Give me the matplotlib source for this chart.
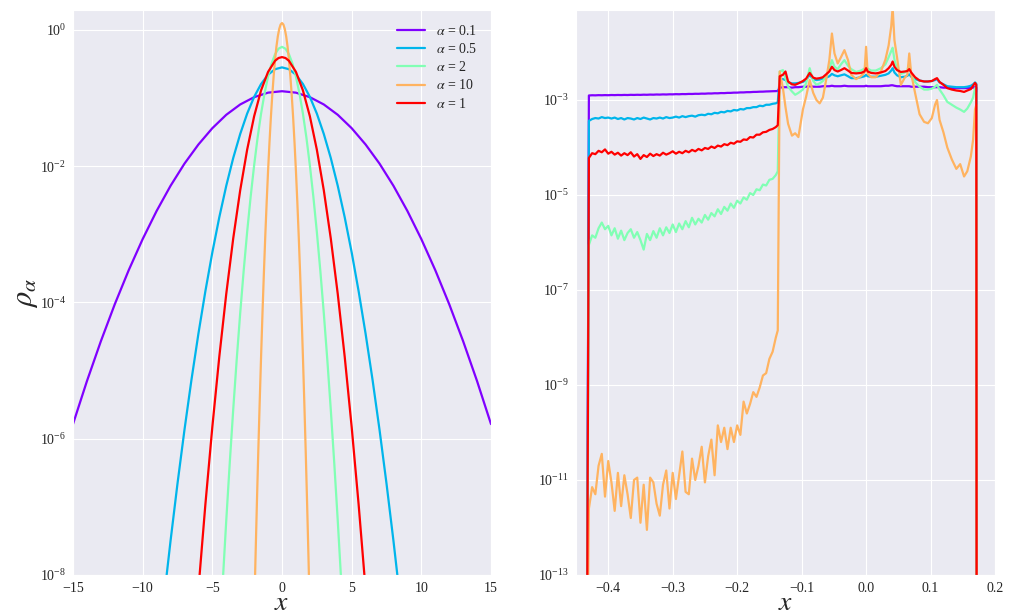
import numpy as np
import matplotlib.pyplot as plt
import seaborn as sns

sns.set_style("darkgrid")
plt.rcParams["font.family"] = ["Liberation Serif", "DejaVu Serif"]
plt.rcParams["mathtext.fontset"] = "stix"

labels = ["0.1", "0.5", "2", "10", "1"]
colors = plt.cm.rainbow(np.linspace(0, 1, 5))

# ---- left panel: densities, read on the x >= 0 half (curves are symmetric)
x_a01 = [0, 1, 2, 3, 4, 5, 6, 7, 8, 9, 10, 11, 12, 13, 14, 15]
rho_a01 = [0.126, 0.120, 0.103, 0.0805, 0.0568, 0.0361, 0.0208, 0.0109, 5.15e-3,
           2.20e-3, 8.51e-4, 2.98e-4, 9.44e-5, 2.70e-5, 7.01e-6, 1.64e-6]

x_a05 = [0, 0.5, 1, 1.5, 2, 2.5, 3, 3.5, 4, 4.5, 5, 5.5, 6, 6.5, 7, 7.5, 8, 8.5]
rho_a05 = [0.282, 0.265, 0.220, 0.161, 0.104, 0.0592, 0.0297, 0.0132, 5.16e-3, 1.78e-3,
           5.43e-4, 1.46e-4, 3.47e-5, 7.28e-6, 1.35e-6, 2.20e-7, 3.16e-8, 4.02e-9]

x_a2 = [0, 0.25, 0.5, 0.75, 1, 1.25, 1.5, 1.75, 2, 2.25, 2.5, 2.75, 3, 3.25, 3.5,
        3.75, 4, 4.25, 4.5]
rho_a2 = [0.564, 0.530, 0.439, 0.321, 0.207, 0.118, 0.0594, 0.0264, 0.0103, 3.57e-3,
          1.09e-3, 2.93e-4, 6.97e-5, 1.46e-5, 2.70e-6, 4.41e-7, 6.34e-8, 8.07e-9, 9.1e-10]

x_a10 = [0, 0.1, 0.2, 0.3, 0.4, 0.5, 0.6, 0.7, 0.8, 0.9, 1.0, 1.1, 1.2, 1.3, 1.4,
         1.5, 1.6, 1.7, 1.8, 1.9, 2.0]
rho_a10 = [1.262, 1.200, 1.033, 0.805, 0.568, 0.361, 0.209, 0.109, 0.0515, 0.0220,
           8.51e-3, 2.98e-3, 9.44e-4, 2.70e-4, 7.01e-5, 1.64e-5, 3.49e-6, 6.71e-7,
           1.17e-7, 1.83e-8, 2.61e-9]

x_a1 = [0, 0.25, 0.5, 1, 1.5, 2, 2.5, 3, 3.5, 4, 4.5, 5, 5.5, 6, 6.5]
rho_a1 = [0.399, 0.387, 0.352, 0.242, 0.130, 0.0540, 0.0175, 4.43e-3, 8.73e-4,
          1.34e-4, 1.60e-5, 1.49e-6, 1.08e-7, 6.1e-9, 2.7e-10]

left_x = [x_a01, x_a05, x_a2, x_a10, x_a1]
left_rho = [rho_a01, rho_a05, rho_a2, rho_a10, rho_a1]

# ---- right panel: log10 of the density
# noisy part: x = -0.430 ... -0.140 (step 0.005) and -0.137
x_noisy = list(np.round(np.arange(-0.430, -0.1375, 0.005), 3)) + [-0.137]
# structured part after the jump
x_struct = [-0.1340, -0.1290, -0.1250, -0.1210, -0.1150, -0.1100, -0.1050, -0.0980,
            -0.0930, -0.0875, -0.0820, -0.0770, -0.0720, -0.0670, -0.0620, -0.0570,
            -0.0530, -0.0490, -0.0440, -0.0390, -0.0336, -0.0280, -0.0230, -0.0155,
            -0.0080, -0.0025, 0.0000, 0.0025, 0.0080, 0.0150, 0.0230, 0.0300, 0.0350,
            0.0390, 0.0412, 0.0440, 0.0480, 0.0540, 0.0600, 0.0640, 0.0670, 0.0700,
            0.0760, 0.0830, 0.0900, 0.0960, 0.1020, 0.1070, 0.1100, 0.1140, 0.1200,
            0.1260, 0.1330, 0.1400, 0.1460, 0.1520, 0.1570, 0.1625, 0.1660, 0.1690,
            0.1710]
x_start, x_end = -0.4333, 0.1716
log_floor = -16.0

lg_a01_noisy = [-2.905, -2.900, -2.902, -2.898, -2.900, -2.897, -2.899, -2.895, -2.897, -2.894,
                -2.896, -2.893, -2.895, -2.891, -2.893, -2.890, -2.892, -2.888, -2.890, -2.886,
                -2.888, -2.884, -2.886, -2.882, -2.884, -2.880, -2.881, -2.877, -2.879, -2.875,
                -2.876, -2.872, -2.873, -2.869, -2.870, -2.866, -2.867, -2.862, -2.863, -2.858,
                -2.859, -2.854, -2.855, -2.850, -2.850, -2.845, -2.845, -2.840, -2.840, -2.835,
                -2.835, -2.830, -2.829, -2.825, -2.824, -2.820, -2.818, -2.815, -2.813, -2.810]
lg_a01_struct = [-2.74, -2.73, -2.73, -2.73, -2.74, -2.73, -2.73, -2.72, -2.72, -2.71,
                 -2.72, -2.72, -2.72, -2.71, -2.71, -2.71, -2.70, -2.71, -2.71, -2.71,
                 -2.70, -2.71, -2.71, -2.71, -2.71, -2.71, -2.70, -2.71, -2.71, -2.71,
                 -2.71, -2.70, -2.70, -2.69, -2.69, -2.70, -2.71, -2.71, -2.71, -2.71,
                 -2.71, -2.72, -2.72, -2.72, -2.72, -2.73, -2.73, -2.73, -2.73, -2.73,
                 -2.74, -2.74, -2.75, -2.75, -2.75, -2.75, -2.75, -2.74, -2.74, -2.73,
                 -2.74]

lg_a05_noisy = [-3.44, -3.40, -3.38, -3.39, -3.36, -3.38, -3.37, -3.39, -3.37, -3.40,
                -3.38, -3.41, -3.38, -3.39, -3.41, -3.38, -3.40, -3.37, -3.39, -3.41,
                -3.38, -3.39, -3.37, -3.39, -3.36, -3.38, -3.37, -3.35, -3.37, -3.34,
                -3.36, -3.34, -3.33, -3.35, -3.32, -3.31, -3.32, -3.29, -3.30, -3.27,
                -3.28, -3.25, -3.26, -3.23, -3.24, -3.21, -3.22, -3.19, -3.20, -3.17,
                -3.17, -3.15, -3.15, -3.12, -3.13, -3.10, -3.10, -3.08, -3.07, -3.05]
lg_a05_struct = [-2.55, -2.56, -2.58, -2.63, -2.65, -2.65, -2.64, -2.62, -2.58, -2.47,
                 -2.56, -2.58, -2.57, -2.55, -2.53, -2.50, -2.45, -2.48, -2.50, -2.48,
                 -2.46, -2.50, -2.54, -2.54, -2.52, -2.50, -2.47, -2.50, -2.51, -2.51,
                 -2.49, -2.47, -2.44, -2.38, -2.33, -2.42, -2.48, -2.52, -2.51, -2.49,
                 -2.46, -2.51, -2.56, -2.59, -2.61, -2.61, -2.60, -2.58, -2.56, -2.63,
                 -2.67, -2.71, -2.72, -2.73, -2.73, -2.73, -2.72, -2.70, -2.67, -2.63,
                 -2.66]

lg_a2_noisy = [-6.05, -5.85, -5.90, -5.70, -5.58, -5.72, -5.65, -5.85, -5.70, -5.92,
               -5.75, -5.95, -5.80, -5.72, -5.90, -5.78, -5.95, -6.15, -5.82, -5.95,
               -5.76, -5.90, -5.70, -5.85, -5.68, -5.80, -5.62, -5.78, -5.60, -5.72,
               -5.55, -5.68, -5.48, -5.62, -5.50, -5.58, -5.42, -5.52, -5.38, -5.45,
               -5.30, -5.40, -5.25, -5.33, -5.18, -5.27, -5.12, -5.18, -5.05, -5.10,
               -4.96, -5.00, -4.88, -4.90, -4.78, -4.80, -4.68, -4.66, -4.58, -4.50]
lg_a2_struct = [-2.40, -2.37, -2.55, -2.72, -2.82, -2.89, -2.85, -2.78, -2.65, -2.33,
                -2.60, -2.68, -2.65, -2.60, -2.50, -2.35, -2.16, -2.30, -2.35, -2.25,
                -2.16, -2.28, -2.35, -2.41, -2.38, -2.34, -2.30, -2.34, -2.38, -2.38,
                -2.33, -2.25, -2.10, -1.97, -1.90, -2.15, -2.35, -2.45, -2.42, -2.38,
                -2.23, -2.45, -2.62, -2.72, -2.78, -2.78, -2.76, -2.72, -2.68, -2.78,
                -2.90, -3.04, -3.10, -3.16, -3.20, -3.25, -3.18, -3.05, -2.95, -2.75,
                -2.85]

lg_a10_noisy = [-11.60, -11.15, -11.30, -10.70, -10.45, -11.35, -10.60, -11.05, -11.65, -10.85,
                -11.55, -10.90, -11.30, -11.80, -11.00, -10.95, -11.90, -11.10, -12.05, -10.95,
                -11.05, -11.50, -11.75, -11.10, -10.80, -11.60, -10.85, -11.40, -10.90, -10.40,
                -11.25, -11.30, -10.55, -11.00, -10.70, -10.30, -11.05, -10.50, -10.15, -10.90,
                -9.85, -10.20, -9.90, -10.35, -9.90, -10.20, -9.85, -10.05, -9.35, -9.60,
                -9.40, -9.15, -9.25, -9.05, -8.80, -8.75, -8.45, -8.30, -8.00, -7.85]
lg_a10_struct = [-2.40, -2.75, -3.15, -3.50, -3.75, -3.70, -3.78, -3.20, -2.93, -2.58,
                 -2.85, -3.00, -3.07, -2.95, -2.58, -2.16, -1.60, -2.02, -2.23, -2.10,
                 -1.95, -2.16, -2.47, -2.56, -2.50, -2.42, -1.88, -2.45, -2.52, -2.52,
                 -2.40, -2.15, -1.85, -1.45, -1.05, -1.74, -2.10, -2.68, -2.53, -2.47,
                 -2.02, -2.45, -2.85, -3.30, -3.46, -3.49, -3.38, -3.10, -3.00, -3.42,
                 -3.68, -4.00, -4.25, -4.45, -4.35, -4.61, -4.50, -4.19, -3.84, -3.20,
                 -3.10]

lg_a1_noisy = [-4.22, -4.12, -4.14, -4.07, -4.10, -4.04, -4.13, -4.09, -4.15, -4.11,
               -4.17, -4.12, -4.16, -4.10, -4.19, -4.14, -4.24, -4.16, -4.20, -4.13,
               -4.18, -4.14, -4.17, -4.11, -4.15, -4.12, -4.08, -4.13, -4.09, -4.12,
               -4.07, -4.10, -4.05, -4.08, -4.03, -4.06, -4.01, -4.03, -3.98, -4.01,
               -3.96, -3.98, -3.93, -3.95, -3.90, -3.92, -3.87, -3.88, -3.83, -3.84,
               -3.78, -3.79, -3.73, -3.73, -3.68, -3.67, -3.63, -3.61, -3.57, -3.53]
lg_a1_struct = [-2.50, -2.47, -2.40, -2.61, -2.67, -2.68, -2.65, -2.60, -2.55, -2.43,
                -2.53, -2.55, -2.54, -2.52, -2.46, -2.40, -2.30, -2.37, -2.40, -2.37,
                -2.33, -2.38, -2.43, -2.44, -2.43, -2.40, -2.33, -2.40, -2.43, -2.44,
                -2.42, -2.39, -2.33, -2.26, -2.19, -2.30, -2.37, -2.41, -2.40, -2.39,
                -2.35, -2.42, -2.52, -2.59, -2.61, -2.61, -2.60, -2.56, -2.54, -2.62,
                -2.68, -2.75, -2.78, -2.80, -2.81, -2.83, -2.80, -2.77, -2.70, -2.64,
                -2.68]

right_noisy = [lg_a01_noisy, lg_a05_noisy, lg_a2_noisy, lg_a10_noisy, lg_a1_noisy]
right_struct = [lg_a01_struct, lg_a05_struct, lg_a2_struct, lg_a10_struct, lg_a1_struct]

fig = plt.figure(figsize=(10.19, 6.14), dpi=100)
ax1 = fig.add_axes([73 / 1019, 39 / 614, 418 / 1019, 565 / 614])
ax2 = fig.add_axes([576 / 1019, 39 / 614, 419 / 1019, 565 / 614])

for xs, rho, lab, c in zip(left_x, left_rho, labels, colors):
    xs = np.array(xs)
    rho = np.array(rho)
    xx = np.concatenate([-xs[::-1], xs[1:]])
    yy = np.concatenate([rho[::-1], rho[1:]])
    ax1.plot(xx, yy, color=c, lw=1.6, label=r"$\alpha$ = " + lab)

xr = np.array([x_start] + x_noisy + x_struct + [x_end])
for lg_n, lg_s, c in zip(right_noisy, right_struct, colors):
    lg = np.array([log_floor] + lg_n + lg_s + [log_floor])
    ax2.plot(xr, 10.0 ** lg, color=c, lw=1.6)

ax1.set_yscale("log")
ax1.set_xlim(-15, 15)
ax1.set_ylim(1e-8, 1.96)
ax1.set_yticks([1e-8, 1e-6, 1e-4, 1e-2, 1e0])
ax1.set_xticks([-15, -10, -5, 0, 5, 10, 15])
ax1.set_xlabel("$x$", fontsize=20, labelpad=-3)
ax1.set_ylabel(r"$\rho_\alpha$", fontsize=22, labelpad=0)
ax1.legend(loc="upper right", frameon=False, fontsize=10, labelspacing=0.3,
           handlelength=2.0, borderaxespad=0.6)

ax2.set_yscale("log")
ax2.set_xlim(-0.45, 0.2)
ax2.set_ylim(1e-13, 0.0785)
ax2.set_yticks([1e-13, 1e-11, 1e-9, 1e-7, 1e-5, 1e-3])
ax2.set_xticks([-0.4, -0.3, -0.2, -0.1, 0.0, 0.1, 0.2])
ax2.set_xlabel("$x$", fontsize=20, labelpad=-3)

for ax in (ax1, ax2):
    ax.minorticks_off()
    ax.tick_params(axis="both", labelsize=10, pad=5, length=0)

fig.savefig("out.png", dpi=100)
